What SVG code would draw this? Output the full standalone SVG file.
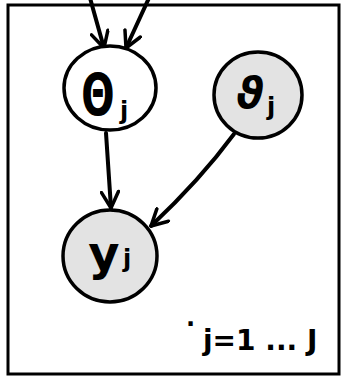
<svg xmlns="http://www.w3.org/2000/svg" width="343" height="378" viewBox="0 0 343 378">
<style>
.frame{fill:none;stroke:#000;stroke-width:3}
.node{stroke:#000;stroke-width:3.5}
.latent{fill:#fff}
.obs{fill:#e3e3e3}
.edge{fill:none;stroke:#000;stroke-width:4;stroke-linecap:round}
.lbl{font-family:"DejaVu Sans",sans-serif;font-weight:bold;fill:#000}
</style>
<defs>
<marker id="ah" viewBox="0 0 20 20" refX="18" refY="10" markerWidth="20" markerHeight="20" markerUnits="userSpaceOnUse" orient="auto">
<path d="M2,1.5 L18,10 L2,18.5" fill="none" stroke="#000" stroke-width="3.5" stroke-linecap="round" stroke-linejoin="round"/>
</marker>
</defs>
<rect class="frame" x="8" y="5" width="331" height="369"/>
<g id="connectors">
<path class="edge" d="M90,-2 L104,48" marker-end="url(#ah)"/>
<path class="edge" d="M149,-2 L126,48" marker-end="url(#ah)"/>
<path class="edge" d="M106,133 L111,208" marker-end="url(#ah)"/>
<path class="edge" d="M234,134 Q200,180 151,226" marker-end="url(#ah)"/>
</g>
<g id="theta">
<ellipse class="node latent" cx="110" cy="88" rx="46" ry="42"/>
<text class="lbl" transform="translate(98,115) scale(0.7,1)" font-size="56" text-anchor="middle">Θ</text>
<text class="lbl" x="124" y="119" font-size="24" text-anchor="middle">j</text>
</g>
<g id="vartheta">
<ellipse class="node obs" cx="258" cy="95" rx="44" ry="43"/>
<text class="lbl" x="250" y="108" font-size="42" font-style="italic" text-anchor="middle">ϑ</text>
<text class="lbl" x="271" y="115" font-size="24" text-anchor="middle">j</text>
</g>
<g id="y">
<ellipse class="node obs" cx="110" cy="256" rx="47" ry="46"/>
<text class="lbl" x="104" y="270" font-size="48" text-anchor="middle">y</text>
<text class="lbl" x="127" y="267" font-size="24" text-anchor="middle">j</text>
</g>
<g id="plate-label">
<text class="lbl" x="186" y="332" font-size="24">·</text>
<text class="lbl" x="203" y="350" font-size="28">j=1 ... J</text>
</g>
</svg>
